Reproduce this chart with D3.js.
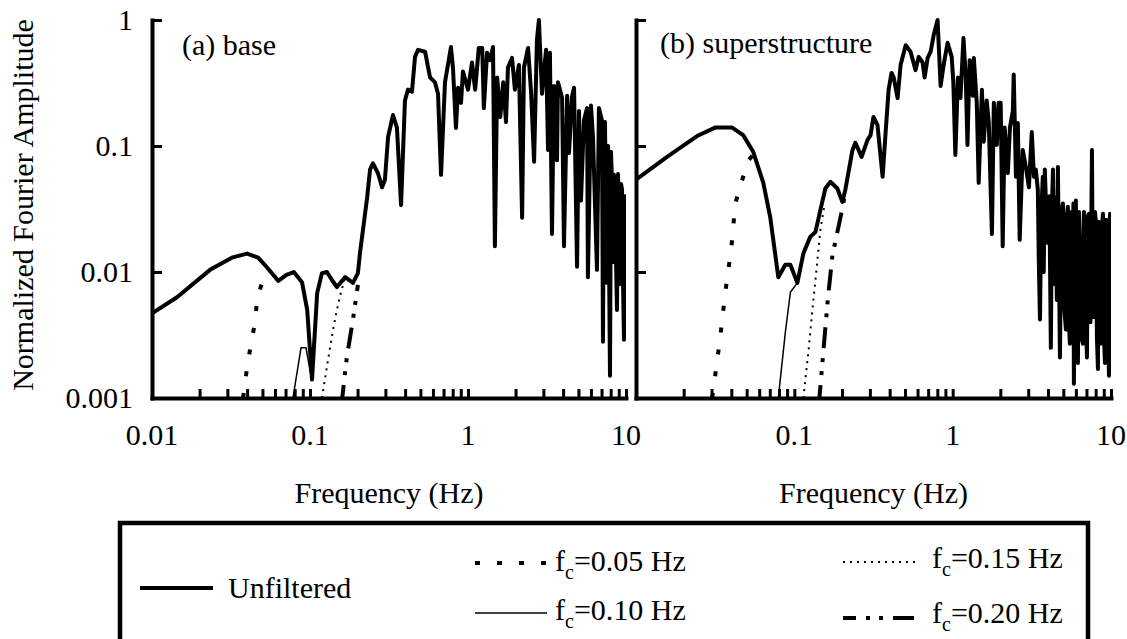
<!DOCTYPE html>
<html><head><meta charset="utf-8">
<script src="https://cdn.jsdelivr.net/npm/d3@7"></script>
<style>
html,body{margin:0;padding:0;background:#fff;}
svg text{font-family:'Liberation Serif','Tinos','Times New Roman','Nimbus Roman','Nimbus Roman No9 L','FreeSerif','Noto Serif','DejaVu Serif',serif !important;fill:#000;}
</style></head>
<body><svg id="chart" width="1127" height="639"></svg>
<script>
// ---------- data ----------
const panelTitles = ["(a) base", "(b) superstructure"];
const yTickValues = [0.001, 0.01, 0.1, 1];
const yTickLabels = ["0.001", "0.01", "0.1", "1"];
const xMajorTicks = [0.01, 0.1, 1, 10];
const xTickLabelsLeft = ["0.01", "0.1", "1", "10"];
const xTickLabelsRight = ["", "0.1", "1", "10"];
const legendLabels = ["Unfiltered", "0.05 Hz", "0.10 Hz", "0.15 Hz", "0.20 Hz"];

// (a) base, unfiltered
const baseFreq = [0.01,0.0144,0.0233,0.032,0.040,0.047,0.053,0.063,0.071,0.079,0.089,0.096,0.103,0.111,0.119,0.128,0.138,0.148,0.167,0.187,0.201,0.207,0.230,0.240,0.250,0.269,0.286,0.298,0.312,0.335,0.355,0.377,0.399,0.417,0.442,0.462,0.483,0.535,0.575,0.618,0.646,0.675,0.715,0.780,0.803,0.839,0.865,0.903,0.929,1.00,1.06,1.11,1.17,1.23,1.26,1.32,1.38,1.44,1.48,1.53,1.60,1.67,1.74,1.79,1.90,1.98,2.10,2.20,2.26,2.40,2.51,2.62,2.73,2.81,2.94,3.12,3.21,3.30,3.40,3.50,3.66,3.71,3.94,4.05,4.24,4.36,4.55,4.69,4.90,5.04,5.19,5.42,5.67,5.74,6.00,6.18,6.55,6.74,7.04,7.15,7.25,7.36,7.47,7.58,7.70,7.92,8.03,8.15,8.27,8.39,8.58,8.77,8.90,9.03,9.09,9.16,9.30,9.44,9.58,9.71,9.85,10];
const baseUnfiltered = [0.0047,0.0063,0.0104,0.013,0.014,0.013,0.011,0.0085,0.0095,0.010,0.0083,0.0050,0.0014,0.0068,0.0098,0.010,0.0086,0.0076,0.0091,0.0082,0.0098,0.014,0.039,0.065,0.073,0.061,0.047,0.054,0.118,0.176,0.14,0.034,0.23,0.28,0.27,0.51,0.58,0.56,0.35,0.32,0.26,0.059,0.32,0.61,0.42,0.139,0.29,0.22,0.39,0.28,0.46,0.28,0.60,0.60,0.20,0.55,0.48,0.61,0.016,0.35,0.17,0.32,0.155,0.42,0.50,0.28,0.44,0.027,0.42,0.60,0.26,0.075,0.69,1.0,0.26,0.58,0.093,0.55,0.020,0.30,0.077,0.32,0.24,0.016,0.25,0.088,0.245,0.29,0.011,0.19,0.037,0.16,0.20,0.0091,0.21,0.118,0.0104,0.20,0.16,0.0028,0.12,0.155,0.03,0.0082,0.10,0.0015,0.09,0.054,0.012,0.059,0.02,0.0050,0.06,0.031,0.008,0.015,0.05,0.045,0.008,0.0029,0.04,0.037];
// (a) base, filtered (low-frequency parts; above the corner they follow the unfiltered curve)
const baseF005Freq = [0.0377,0.040,0.0424,0.0449,0.0463,0.0497,0.054];
const baseF005Amp  = [0.001,0.00176,0.00273,0.0040,0.0062,0.0082,0.0093];
const baseF010Freq = [0.078,0.0877,0.0944,0.1014,0.111];
const baseF010Amp  = [0.001,0.0025,0.0025,0.0015,0.0068];
const baseF015Freq = [0.119,0.130,0.140,0.148,0.157,0.167];
const baseF015Amp  = [0.001,0.002,0.0035,0.0050,0.0069,0.0091];
const baseF020Freq = [0.160,0.171,0.187,0.201];
const baseF020Amp  = [0.001,0.0021,0.0042,0.0079];

// (b) superstructure, unfiltered
const superFreq = [0.01,0.0157,0.0243,0.0316,0.0405,0.0475,0.055,0.0637,0.0705,0.0792,0.0877,0.0944,0.1045,0.114,0.126,0.136,0.146,0.157,0.169,0.187,0.201,0.210,0.233,0.243,0.266,0.290,0.303,0.316,0.335,0.361,0.377,0.394,0.411,0.424,0.449,0.469,0.505,0.542,0.583,0.610,0.646,0.665,0.695,0.726,0.759,0.803,0.839,0.877,0.929,0.986,1.01,1.04,1.08,1.12,1.17,1.21,1.24,1.28,1.34,1.36,1.42,1.46,1.53,1.57,1.64,1.69,1.77,1.82,1.90,1.95,2.01,2.07,2.13,2.23,2.30,2.40,2.43,2.51,2.58,2.65,2.77,2.90,3.03,3.16,3.26,3.35,3.45,3.50,3.56,3.63,3.71,3.76,3.82,3.90,3.99,4.08,4.17,4.23,4.30,4.40,4.49,4.55,4.62,4.69,4.76,4.86,4.97,5.08,5.19,5.26,5.34,5.42,5.50,5.62,5.75,5.79,5.83,5.92,6.00,6.09,6.18,6.28,6.37,6.51,6.65,6.75,6.85,6.95,7.05,7.15,7.26,7.42,7.58,7.69,7.80,7.92,8.04,8.15,8.27,8.33,8.40,8.52,8.65,8.78,8.90,9.03,9.16,9.30,9.44,9.57,9.71,9.78,9.86,9.93,10];
const superUnfiltered = [0.054,0.082,0.12,0.14,0.14,0.122,0.090,0.051,0.027,0.0091,0.0114,0.0114,0.0082,0.014,0.019,0.0208,0.031,0.046,0.052,0.046,0.036,0.045,0.093,0.106,0.082,0.112,0.122,0.17,0.147,0.057,0.127,0.28,0.38,0.35,0.24,0.44,0.63,0.56,0.40,0.51,0.46,0.35,0.50,0.56,0.76,1.0,0.30,0.44,0.66,0.51,0.32,0.085,0.35,0.24,0.72,0.35,0.102,0.48,0.25,0.50,0.22,0.051,0.28,0.108,0.23,0.155,0.020,0.22,0.102,0.22,0.22,0.016,0.14,0.061,0.14,0.19,0.37,0.057,0.152,0.018,0.093,0.068,0.047,0.129,0.057,0.065,0.045,0.012,0.0042,0.030,0.057,0.010,0.065,0.030,0.017,0.040,0.0025,0.030,0.065,0.008,0.039,0.006,0.068,0.012,0.0021,0.030,0.035,0.005,0.0035,0.028,0.033,0.004,0.0027,0.030,0.017,0.035,0.0013,0.025,0.037,0.003,0.0019,0.030,0.017,0.003,0.0027,0.030,0.027,0.004,0.0021,0.025,0.029,0.004,0.093,0.006,0.0044,0.030,0.0245,0.003,0.0017,0.025,0.018,0.003,0.0027,0.024,0.029,0.003,0.0019,0.026,0.0228,0.004,0.0015,0.022,0.029,0.004,0.0027];
// (b) superstructure, filtered
const superF005Freq = [0.0303,0.034,0.0366,0.040,0.0424,0.0469,0.0512,0.055];
const superF005Amp  = [0.001,0.0030,0.0068,0.0155,0.035,0.054,0.077,0.085];
const superF010Freq = [0.0792,0.0877,0.0944,0.1045];
const superF010Amp  = [0.001,0.0033,0.0069,0.0082];
const superF015Freq = [0.114,0.123,0.130,0.138,0.146,0.155];
const superF015Amp  = [0.001,0.0024,0.0050,0.0104,0.0216,0.034];
const superF020Freq = [0.144,0.162,0.174,0.190,0.204,0.210];
const superF020Amp  = [0.001,0.0057,0.0136,0.0228,0.035,0.045];

// ---------- styles ----------
const styles = {
  unf:  {w: 4,   dash: null},
  f005: {w: 4,   dash: "5 17"},
  f010: {w: 1.5, dash: null},
  f015: {w: 2,   dash: "2 5"},
  f020: {w: 4,   dash: "21 10 4 9 4 10", off: 8}
};

const zip = (a, b) => a.map((v, i) => [v, b[i]]);
const panels = [
  {id: "L", x0: 152, x1: 626, title: panelTitles[0], tx: 182, ty: 55, labels: xTickLabelsLeft, yLabels: true,
   series: [
     {d: zip(baseF005Freq, baseF005Amp), s: styles.f005},
     {d: zip(baseF010Freq, baseF010Amp), s: styles.f010},
     {d: zip(baseF015Freq, baseF015Amp), s: styles.f015},
     {d: zip(baseF020Freq, baseF020Amp), s: styles.f020},
     {d: zip(baseFreq, baseUnfiltered), s: styles.unf}
   ]},
  {id: "R", x0: 636, x1: 1111, title: panelTitles[1], tx: 660, ty: 53, labels: xTickLabelsRight, yLabels: false,
   series: [
     {d: zip(superF005Freq, superF005Amp), s: styles.f005},
     {d: zip(superF010Freq, superF010Amp), s: styles.f010},
     {d: zip(superF015Freq, superF015Amp), s: styles.f015},
     {d: zip(superF020Freq, superF020Amp), s: styles.f020},
     {d: zip(superFreq, superUnfiltered), s: styles.unf}
   ]}
];

const svg = d3.select("#chart");
const FS = 30;
const yTop = 20, yBot = 398;
const y = d3.scaleLog().domain([0.001, 1]).range([yBot, yTop]);

// minor ticks 2..9 in each decade plus decade ticks
const xTickVals = [];
for (let e = -2; e <= 0; e++) for (let m = 1; m <= 9; m++) xTickVals.push(+(m * Math.pow(10, e)).toPrecision(3));
xTickVals.push(10);

const defs = svg.append("defs");

panels.forEach(p => {
  const x = d3.scaleLog().domain([0.01, 10]).range([p.x0, p.x1]);
  defs.append("clipPath").attr("id", "clip" + p.id)
    .append("rect").attr("x", p.x0).attr("y", 0).attr("width", p.x1 - p.x0).attr("height", yBot);

  const line = d3.line().x(d => x(d[0])).y(d => y(d[1])).curve(d3.curveLinear);
  const g = svg.append("g").attr("clip-path", `url(#clip${p.id})`);
  p.series.forEach(sr => {
    g.append("path").attr("d", line(sr.d))
      .attr("fill", "none").attr("stroke", "#000")
      .attr("stroke-width", sr.s.w)
      .attr("stroke-linejoin", "round")
      .attr("stroke-dasharray", sr.s.dash)
      .attr("stroke-dashoffset", sr.s.off || 0);
  });

  // x axis
  const xa = svg.append("g").attr("transform", `translate(0,${yBot})`)
    .call(d3.axisBottom(x).tickValues(xTickVals).tickSize(-9).tickSizeOuter(0).tickFormat(""));
  xa.select(".domain").attr("stroke-width", 4).attr("stroke-linecap", "square");
  xa.selectAll(".tick line").attr("stroke-width", 3);

  // y axis
  const ya = svg.append("g").attr("transform", `translate(${p.x0},0)`)
    .call(d3.axisLeft(y).tickValues(yTickValues).tickSize(-10).tickSizeOuter(0).tickFormat(""));
  ya.select(".domain").attr("stroke-width", 4).attr("stroke-linecap", "square");
  ya.selectAll(".tick line").attr("stroke-width", 3);

  // x tick labels
  svg.append("g").selectAll("text").data(xMajorTicks).join("text")
    .attr("x", d => x(d)).attr("y", 445).attr("text-anchor", "middle")
    .attr("font-size", FS).text((d, i) => p.labels[i]);

  if (p.yLabels) {
    svg.append("g").selectAll("text").data(yTickValues).join("text")
      .attr("x", 133).attr("y", d => y(d)).attr("dy", "0.34em")
      .attr("text-anchor", "end").attr("font-size", FS).text((d, i) => yTickLabels[i]);
  }

  svg.append("text").attr("x", p.tx).attr("y", p.ty).attr("font-size", FS).text(p.title);
  svg.append("text").attr("x", (p.x0 + p.x1) / 2).attr("y", 503).attr("text-anchor", "middle")
    .attr("font-size", FS).text("Frequency (Hz)");
});

// y axis title
svg.append("text").attr("transform", "translate(33,205) rotate(-90)")
  .attr("text-anchor", "middle").attr("font-size", FS).text("Normalized Fourier Amplitude");

// legend
svg.append("rect").attr("x", 120).attr("y", 523).attr("width", 968).attr("height", 200)
  .attr("fill", "none").attr("stroke", "#000").attr("stroke-width", 4.5);

const legendItems = [
  {s: styles.unf,  x1: 140, x2: 213, ly: 588, tx: 228, ty: 598, label: legendLabels[0], fc: false},
  {s: styles.f005, x1: 475, x2: 547, ly: 563, tx: 555, ty: 571, label: legendLabels[1], fc: true},
  {s: styles.f010, x1: 475, x2: 547, ly: 613, tx: 555, ty: 620, label: legendLabels[2], fc: true},
  {s: styles.f015, x1: 843, x2: 915, ly: 562, tx: 932, ty: 568, label: legendLabels[3], fc: true},
  {s: styles.f020, x1: 843, x2: 915, ly: 618, tx: 932, ty: 623, label: legendLabels[4], fc: true}
];
const lg = svg.append("g");
legendItems.forEach(it => {
  lg.append("line").attr("x1", it.x1).attr("x2", it.x2).attr("y1", it.ly).attr("y2", it.ly)
    .attr("stroke", "#000").attr("stroke-width", it.s.w)
    .attr("stroke-dasharray", it.s.dash).attr("stroke-dashoffset", it.s.off || 0);
  const t = lg.append("text").attr("x", it.tx).attr("y", it.ty).attr("font-size", FS);
  if (it.fc) {
    t.append("tspan").text("f");
    t.append("tspan").attr("dy", 8).attr("font-size", 20).text("c");
    t.append("tspan").attr("dy", -8).text("=" + it.label);
  } else {
    t.text(it.label);
  }
});
</script></body></html>
